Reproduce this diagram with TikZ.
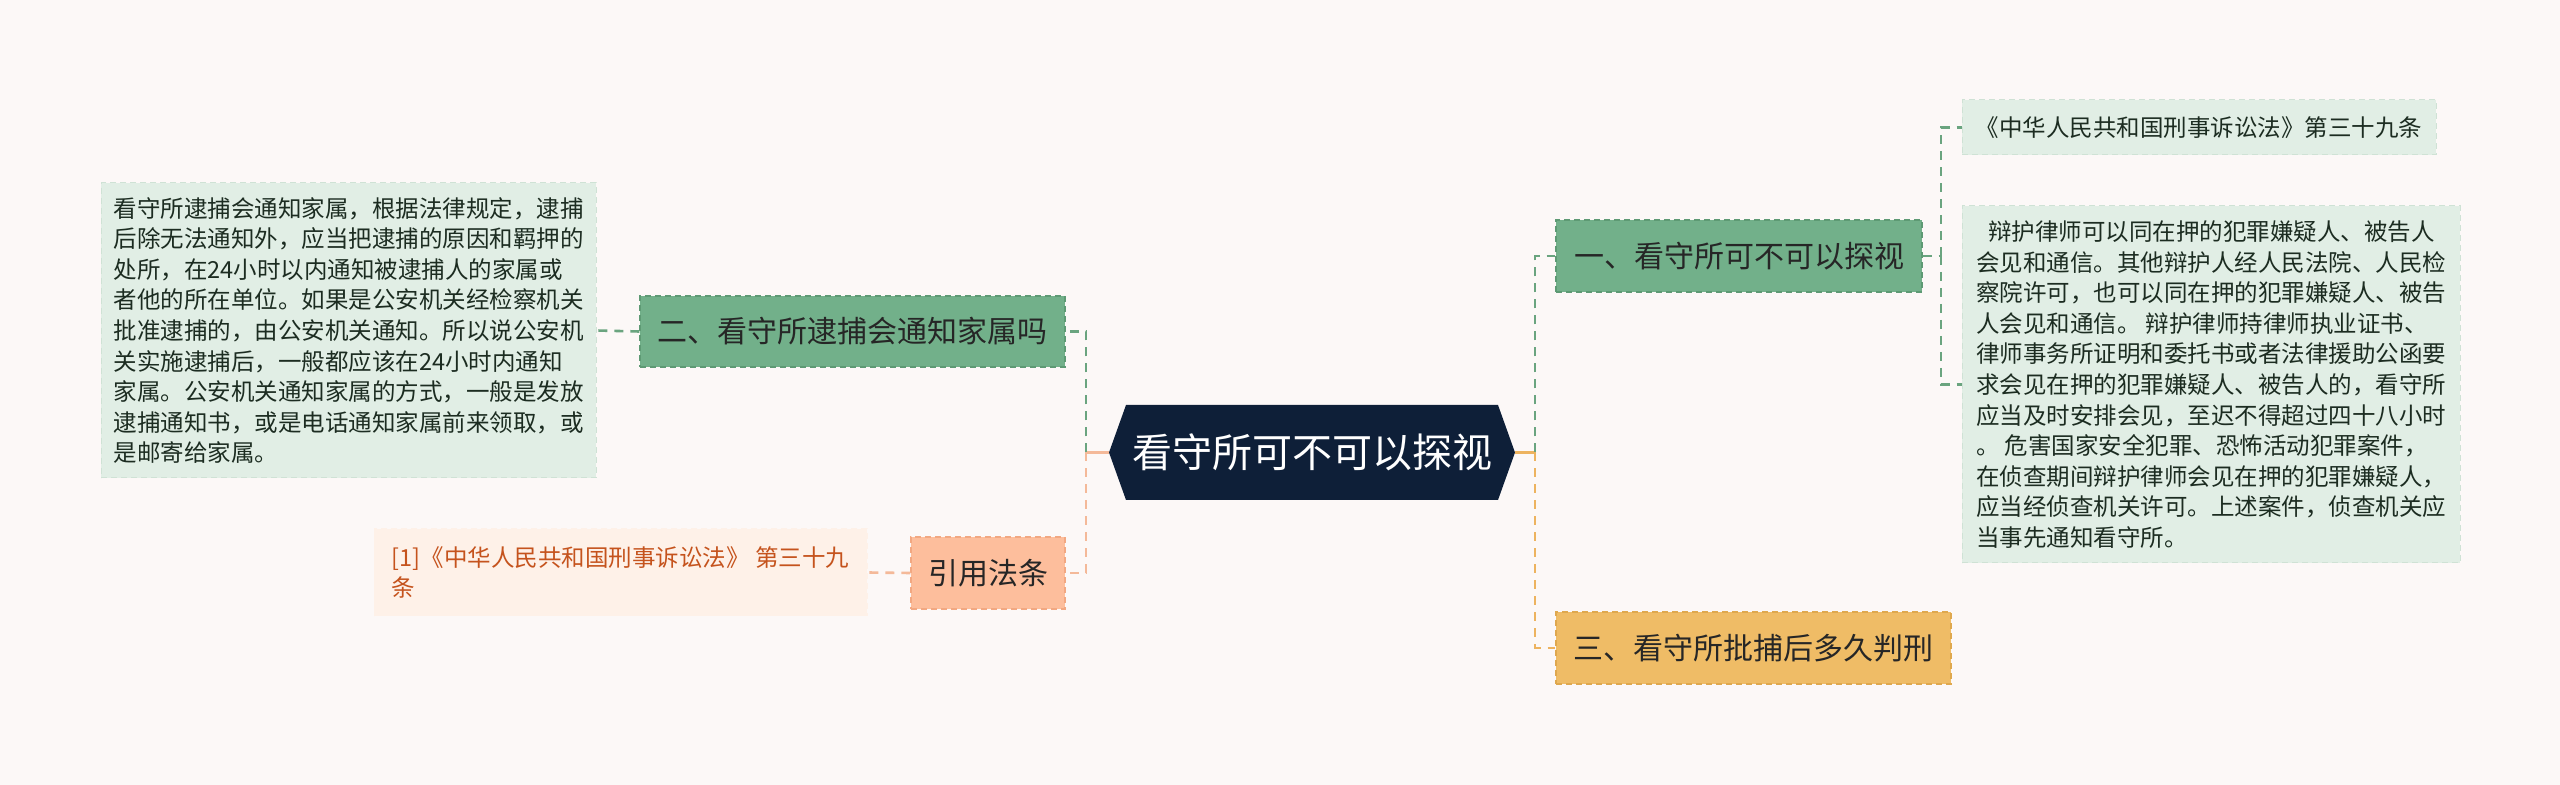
\documentclass[tikz,border=0pt]{standalone}
\usepackage{fontspec}
\setmainfont{Noto Sans CJK SC}
\definecolor{bg}{HTML}{FCF8F7}
\definecolor{navy}{HTML}{0E1F38}
\definecolor{gfill}{HTML}{72B08A}
\definecolor{gdraw}{HTML}{5E9A74}
\definecolor{tfill}{HTML}{E1EEE5}
\definecolor{tdraw}{HTML}{CFE2D5}
\definecolor{ttext}{HTML}{1C2C21}
\definecolor{ofill}{HTML}{FDBE9C}
\definecolor{odraw}{HTML}{F2A882}
\definecolor{rfill}{HTML}{FEF1E8}
\definecolor{rtext}{HTML}{C5531D}
\definecolor{yfill}{HTML}{EFBC66}
\definecolor{ydraw}{HTML}{DFA84E}
\definecolor{gline}{HTML}{6AA47F}
\definecolor{oline}{HTML}{F4B999}
\definecolor{yline}{HTML}{EDB35F}
\begin{document}
\begin{tikzpicture}[x=0.5pt,y=-0.5pt,
  dsh/.style={dash pattern=on 3pt off 2pt},
  ldsh/.style={dash pattern=on 4.5pt off 3.5pt},
  branchbox/.style={inner sep=0pt, dsh, line width=0.7pt, text=black!85, font=\fontsize{15pt}{18pt}\selectfont},
  textbox/.style={inner sep=0pt, dsh, line width=0.5pt, fill=tfill, draw=tdraw, text=ttext, align=left, font=\fontsize{11.75pt}{15.3pt}\selectfont},
  glink/.style={draw=gline, line width=1.3pt, ldsh},
  olink/.style={draw=oline, line width=1.3pt, ldsh},
  ylink/.style={draw=yline, line width=1.3pt, ldsh}]
\fill[bg] (0,0) rectangle (2560,785);
\useasboundingbox (0,0) rectangle (2560,785);
% central hexagon
\fill[navy] (1109,452.5) -- (1126,405) -- (1498,405) -- (1515,452.5) -- (1498,500) -- (1126,500) -- cycle;
\node[inner sep=0pt, minimum width=203pt, minimum height=47.5pt, text=white, font=\fontsize{20pt}{24pt}\selectfont] (c) at (1312,452.5) {看守所可不可以探视};
% left branches
\node[branchbox, fill=gfill, draw=gdraw, minimum width=212.5pt, minimum height=35.5pt] (n2) at (852.5,331.5) {二、看守所逮捕会通知家属吗};
\node[textbox, minimum width=247.5pt, minimum height=147.5pt] (t2) at (348.5,330.5) {看守所逮捕会通知家属，根据法律规定，逮捕\\后除无法通知外，应当把逮捕的原因和羁押的\\处所，在24小时以内通知被逮捕人的家属或\\者他的所在单位。如果是公安机关经检察机关\\批准逮捕的，由公安机关通知。所以说公安机\\关实施逮捕后，一般都应该在24小时内通知\\家属。公安机关通知家属的方式，一般是发放\\逮捕通知书，或是电话通知家属前来领取，或\\是邮寄给家属。};
\node[branchbox, fill=ofill, draw=odraw, minimum width=77pt, minimum height=36pt] (nref) at (988,573) {引用法条};
\node[textbox, fill=rfill, draw=rfill, text=rtext, minimum width=246.5pt, minimum height=43.5pt] (tref) at (620.5,572.5) {[1]《中华人民共和国刑事诉讼法》 第三十九\\条};
% right branches
\node[branchbox, fill=gfill, draw=gdraw, minimum width=183pt, minimum height=36pt] (n1) at (1739,256) {一、看守所可不可以探视};
\node[branchbox, fill=yfill, draw=ydraw, minimum width=197.5pt, minimum height=36pt] (n3) at (1753.5,648) {三、看守所批捕后多久判刑};
\node[textbox, minimum width=237pt, minimum height=27.5pt] (t1a) at (2199,127.5) {《中华人民共和国刑事诉讼法》第三十九条};
\node[textbox, minimum width=249pt, minimum height=178.5pt] (t1b) at (2211,384.5) {\hspace*{6pt}辩护律师可以同在押的犯罪嫌疑人、被告人\\会见和通信。其他辩护人经人民法院、人民检\\察院许可，也可以同在押的犯罪嫌疑人、被告\\人会见和通信。 辩护律师持律师执业证书、\\律师事务所证明和委托书或者法律援助公函要\\求会见在押的犯罪嫌疑人、被告人的，看守所\\应当及时安排会见，至迟不得超过四十八小时\\。 危害国家安全犯罪、恐怖活动犯罪案件，\\在侦查期间辩护律师会见在押的犯罪嫌疑人，\\应当经侦查机关许可。上述案件，侦查机关应\\当事先通知看守所。};
% connectors left
\coordinate (ls) at (1086,452.5);
\draw[draw=oline, line width=1.3pt] (c.west) -- (ls);
\draw[glink] (ls) -- (ls |- n2.east) -- (n2.east);
\draw[olink] (ls) -- (ls |- nref.east) -- (nref.east);
\draw[glink] (n2.west) -- (t2.east);
\draw[olink] (nref.west) -- (tref.east);
% connectors right
\coordinate (rs) at (1535,452.5);
\draw[draw=yline, line width=1.3pt] (c.east) -- (rs);
\draw[glink] (rs) -- (rs |- n1.west) -- (n1.west);
\draw[ylink] (rs) -- (rs |- n3.west) -- (n3.west);
\coordinate (rs2) at (1941,256);
\draw[glink] (n1.east) -- (rs2);
\draw[glink] (rs2) -- (rs2 |- t1a.west) -- (t1a.west);
\draw[glink] (rs2) -- (rs2 |- t1b.west) -- (t1b.west);
\end{tikzpicture}
\end{document}
